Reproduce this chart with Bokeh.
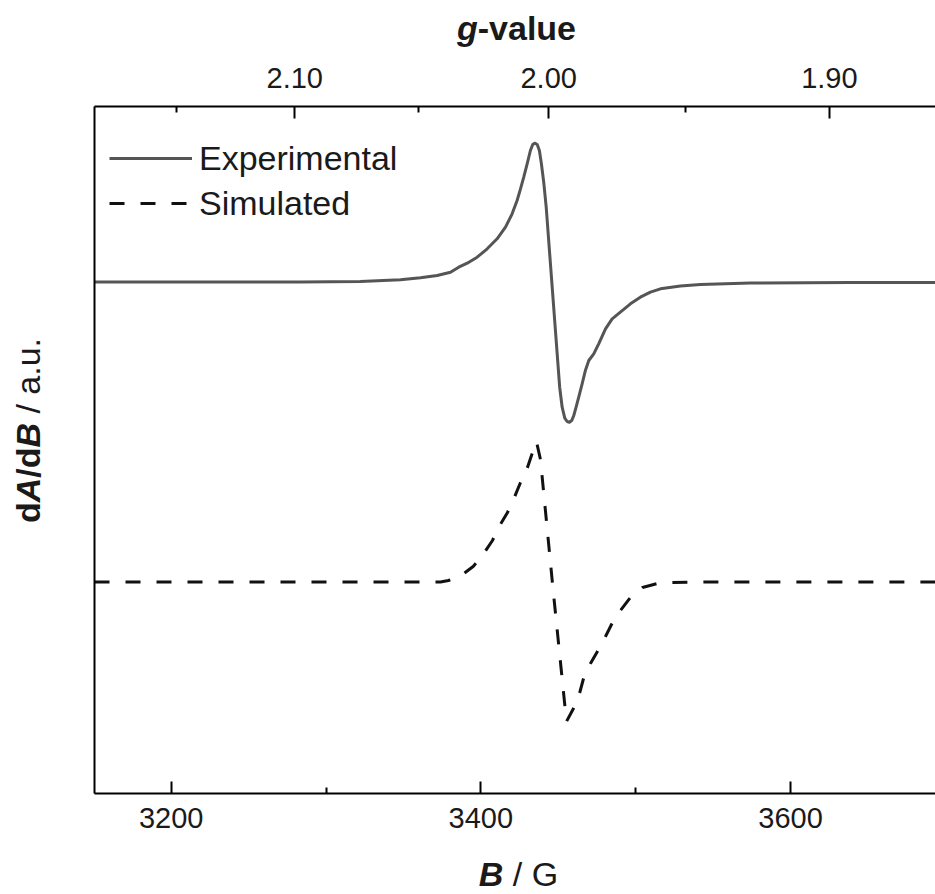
import math
from bokeh.plotting import figure
from bokeh.models import (Range1d, LinearAxis, FixedTicker, CustomJSTickFormatter,
                          Legend, LegendItem, Label)
from bokeh.embed import file_html
from bokeh.resources import INLINE

# ---------------- data ----------------
exp_field = [3150.5, 3218.9, 3283.5, 3322.2, 3348.1, 3361.0, 3371.8, 3380.4, 3385.7, 3391.2,
             3397.6, 3404.1, 3410.5, 3415.9, 3420.2, 3423.4, 3425.6, 3427.7, 3429.9, 3432.0,
             3433.5, 3434.8, 3436.4, 3437.8, 3439.1, 3440.6, 3442.2, 3450.9, 3452.5, 3454.2,
             3455.7, 3457.2, 3458.7, 3460.0, 3461.5, 3463.2, 3465.4, 3467.5, 3469.7, 3472.9,
             3476.1, 3480.5, 3484.8, 3490.1, 3496.6, 3503.0, 3509.5, 3516.0, 3528.9, 3541.8,
             3574.1, 3638.7, 3693.6]
exp_signal = [0, 0, 0, 0.5, 2.2, 4.2, 6.5, 9.8, 14.8, 18.8,
              24.8, 33.2, 43.2, 54.8, 68.2, 81.5, 93.2, 104.8, 118.2, 131.5,
              137.5, 138.8, 137.5, 131.5, 118.2, 99.8, 74.8, -105.2, -125.2, -136.2,
              -139.5, -140.2, -138.5, -133.5, -125.2, -115.2, -101.8, -88.5, -78.5, -71.8,
              -61.8, -46.8, -36.8, -30.2, -21.8, -15.2, -10.2, -6.8, -4.0, -2.5,
              -1.0, -0.5, -0.5]

sim_field = [3150.5, 3373.9, 3379.1, 3386.8, 3395.2, 3401.0, 3407.5, 3411.4, 3417.2, 3421.1,
             3425.6, 3430.1, 3432.7, 3435.9, 3438.5, 3446.6, 3455.3, 3459.8, 3463.7, 3466.3,
             3470.8, 3476.0, 3480.5, 3485.0, 3490.1, 3496.6, 3504.4, 3514.1, 3522.5, 3541.8,
             3693.6]
sim_signal = [0, 0, 1.5, 5.8, 15.8, 26.5, 41.5, 54.5, 69.5, 82.5,
              99.5, 114.5, 126.5, 140.5, 122.5, -7.0, -139.5, -126.5, -111.5, -96.5,
              -81.5, -67.5, -54.5, -40.5, -28.5, -15.5, -5.5, -1.5, -0.5, 0,
              0]

exp_offset = 511.5   # vertical offset of experimental trace (a.u.)
sim_offset = 211.5   # vertical offset of simulated trace (a.u.)

b_min, b_max = 3150.5, 3693.6          # field range of the plot box
y_min, y_max = 0, 687                  # intensity range of the plot box (a.u.)

b_ticks = [3200, 3400, 3600]
b_minor = [3300, 3500]
g_ticks = [2.10, 2.00, 1.90]
g_minor = [2.15, 2.05, 1.95]
g_const = 6887.6     # h*nu/muB expressed in gauss  (B = g_const / g)

FONT = "Liberation Sans"
TXT = "#1a1a1a"

# ---------------- page geometry ----------------
W, H = 935, 894
BOX_L, BOX_T, BOX_B = 94, 106, 793      # plot box edges in page pixels (right edge = W)
px_per_b = (W - BOX_L) / (b_max - b_min)
px_per_y = (BOX_B - BOX_T) / (y_max - y_min)

# the frame fills the whole canvas; the axes are pinned to the box edges
xr = Range1d(b_min - BOX_L / px_per_b, b_max)
yr = Range1d(y_min - (H - BOX_B) / px_per_y, y_max + BOX_T / px_per_y)

p = figure(width=W, height=H, output_backend="svg", toolbar_location=None,
           x_range=xr, y_range=yr, x_axis_location=None, y_axis_location=None,
           min_border=0)
p.outline_line_color = None
p.background_fill_color = "white"
p.border_fill_color = "white"
p.grid.visible = False


def style(ax, standoff):
    ax.axis_line_width = 2
    ax.axis_line_color = "black"
    ax.major_tick_in = 12
    ax.major_tick_out = 0
    ax.minor_tick_in = 6
    ax.minor_tick_out = 0
    ax.major_tick_line_width = 2
    ax.minor_tick_line_width = 2
    ax.major_tick_line_color = "black"
    ax.minor_tick_line_color = "black"
    ax.major_label_text_font = FONT
    ax.major_label_text_font_size = "29px"
    ax.major_label_text_color = TXT
    ax.major_label_standoff = standoff


bottom = LinearAxis(ticker=FixedTicker(ticks=b_ticks, minor_ticks=b_minor),
                    fixed_location=y_min, bounds=(b_min, b_max))
style(bottom, 14)
p.add_layout(bottom, "below")

top = LinearAxis(ticker=FixedTicker(ticks=[g_const / g for g in g_ticks],
                                    minor_ticks=[g_const / g for g in g_minor]),
                 formatter=CustomJSTickFormatter(code=f"return ({g_const}/tick).toFixed(2);"),
                 fixed_location=y_max, bounds=(b_min, b_max))
style(top, 19)
p.add_layout(top, "above")

left = LinearAxis(ticker=FixedTicker(ticks=[]), fixed_location=b_min, bounds=(y_min, y_max))
style(left, 0)
left.major_label_text_font_size = "0px"
p.add_layout(left, "left")

# ---------------- traces ----------------
exp_y = [exp_offset + s for s in exp_signal]
sim_y = [sim_offset + s for s in sim_signal]
r_exp = p.line(exp_field, exp_y, line_color="#555555", line_width=3, line_join="round")
r_sim = p.line(sim_field, sim_y, line_color="#111111", line_width=3, line_dash="15 16")

legend = Legend(items=[LegendItem(label="Experimental", renderers=[r_exp]),
                       LegendItem(label="Simulated", renderers=[r_sim])],
                location=(BOX_L + 15, H - 223), padding=0, margin=0, spacing=5,
                glyph_width=83, glyph_height=40, label_height=40, label_standoff=7,
                label_text_font=FONT, label_text_font_size="34px", label_text_color=TXT,
                border_line_color=None, background_fill_alpha=0)
p.add_layout(legend)

# ---------------- rich-text titles (screen coords of the canvas, y up) ----------------
FS = 34
SHIFT = 13   # measured offset between the anchor and the rendered baseline


def rich(pieces, x0, y0, angle=0.0):
    """pieces: (text, font style, gap before [em], advance [em])"""
    pos = 0.0
    for text, style_, pre, adv in pieces:
        pos += pre
        dx = math.cos(angle) * pos * FS
        dy = math.sin(angle) * pos * FS
        p.add_layout(Label(x=x0 + dx, y=y0 + dy, x_units="screen", y_units="screen",
                           text=text, angle=angle, text_font=FONT, text_font_size=f"{FS}px",
                           text_font_style=style_, text_color=TXT,
                           text_align="left", text_baseline="alphabetic"))
        pos += adv


# y label: dA/dB / a.u.  (baseline at x = 42)
ylab = [("d", "bold", 0, 0.611), ("A", "bold italic", 0, 0.722), ("/d", "bold", 0, 0.889),
        ("B", "bold italic", 0, 0.722), ("/ a.u.", "normal", 0.278, 2.224)]
ylen = sum(a + b for _, _, a, b in ylab) * FS
rich(ylab, 42 - 15, H - (430 + ylen / 2), angle=math.pi / 2)

# x label: B / G  (baseline at y = 886)
xlab = [("B", "bold italic", 0, 0.722), ("/ G", "normal", 0.278, 1.334)]
xlen = sum(a + b for _, _, a, b in xlab) * FS
rich(xlab, 518 - xlen / 2, H - (886 - SHIFT))

# top label: g-value  (baseline at y = 40)
tlab = [("g", "bold italic", 0, 0.611), ("-value", "bold", 0, 2.89)]
tlen = sum(a + b for _, _, a, b in tlab) * FS
rich(tlab, 516 - tlen / 2, H - (40 - SHIFT))

open("out.html", "w").write(file_html(p, INLINE))
